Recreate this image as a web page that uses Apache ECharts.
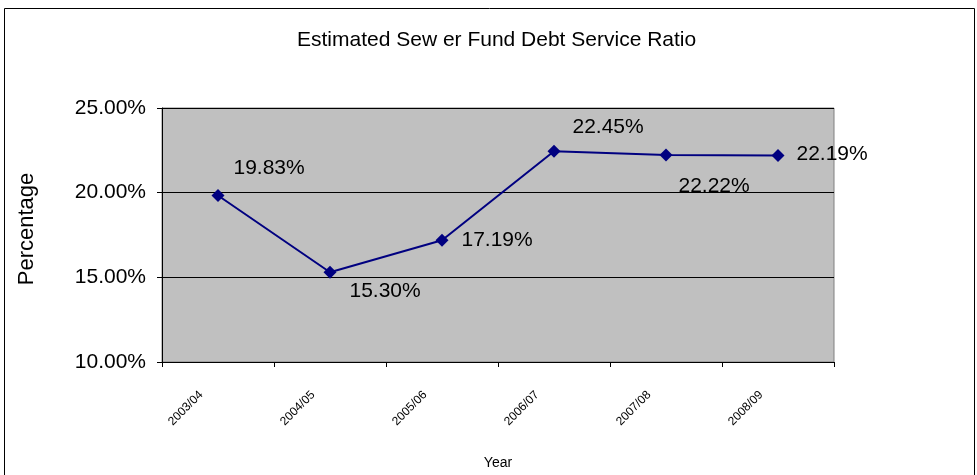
<!DOCTYPE html>
<html>
<head>
<meta charset="utf-8">
<script src="https://cdn.jsdelivr.net/npm/echarts@6/dist/echarts.min.js"></script>
<style>
  html, body { margin: 0; padding: 0; background: #fff; }
  #chart { width: 977px; height: 475px; }
</style>
</head>
<body>
<div id="chart"></div>
<script>
// Fiscal years and estimated debt service ratio (percent)
const years = ['2003/04', '2004/05', '2005/06', '2006/07', '2007/08', '2008/09'];
const ratios = [19.83, 15.30, 17.19, 22.45, 22.22, 22.19];
const yTicks = [10, 15, 20, 25];

// Per-point label placement [dx, dy] relative to the default right-side spot
const labelOffsets = [[-5, -27], [-1, 19], [-1, 0], [-2, -24], [-8, 31], [-2, -1]];

const FONT = 'Liberation Sans, Arial, sans-serif';

const chart = echarts.init(document.getElementById('chart'), null, { renderer: 'canvas' });

const seriesData = ratios.map((v, i) => ({
  value: v,
  label: { offset: labelOffsets[i] }
}));

chart.setOption({
  animation: false,
  backgroundColor: '#ffffff',
  title: {
    text: 'Estimated Sew er Fund Debt Service Ratio',
    left: 292,
    top: 25,
    textStyle: { fontFamily: FONT, fontSize: 21, fontWeight: 'normal', color: '#000' }
  },
  graphic: [{
    type: 'rect',
    shape: { x: 4.5, y: 8.5, width: 970, height: 480 },
    style: { fill: 'none', stroke: '#000', lineWidth: 1 },
    silent: true
  }],
  grid: {
    left: 162, top: 108, width: 672, height: 254,
    show: true, backgroundColor: '#c0c0c0', borderColor: '#808080', borderWidth: 1
  },
  xAxis: {
    type: 'category',
    data: years,
    boundaryGap: true,
    name: 'Year',
    nameLocation: 'middle',
    nameGap: 94,
    nameTextStyle: { fontFamily: FONT, fontSize: 14, color: '#000' },
    axisLine: { lineStyle: { color: '#000', width: 1 } },
    axisTick: { show: true, length: 5, alignWithLabel: false, lineStyle: { color: '#000' } },
    axisLabel: {
      rotate: 45,
      fontFamily: FONT,
      fontSize: 12,
      color: '#000',
      margin: 14,
      padding: [0, 24, 0, 0]
    },
    splitLine: { show: false }
  },
  yAxis: {
    type: 'value',
    min: yTicks[0],
    max: yTicks[yTicks.length - 1],
    interval: 5,
    name: 'Percentage',
    nameLocation: 'middle',
    nameGap: 124,
    nameTextStyle: { fontFamily: FONT, fontSize: 22, color: '#000', padding: [0, 0, 0, 12] },
    axisLine: { show: true, lineStyle: { color: '#000', width: 1 } },
    axisTick: { show: true, length: 5, inside: false, lineStyle: { color: '#000' } },
    axisLabel: {
      formatter: v => v.toFixed(2) + '%',
      fontFamily: FONT,
      fontSize: 21,
      color: '#000',
      margin: 16
    },
    splitLine: { show: true, lineStyle: { color: '#000', width: 1 } }
  },
  series: [{
    type: 'line',
    data: seriesData,
    symbol: 'diamond',
    symbolSize: 13,
    itemStyle: { color: '#000080' },
    lineStyle: { color: '#000080', width: 2 },
    label: {
      show: true,
      position: 'right',
      distance: 14,
      formatter: p => p.value.toFixed(2) + '%',
      fontFamily: FONT,
      fontSize: 21,
      color: '#000'
    }
  }]
});
</script>
</body>
</html>
